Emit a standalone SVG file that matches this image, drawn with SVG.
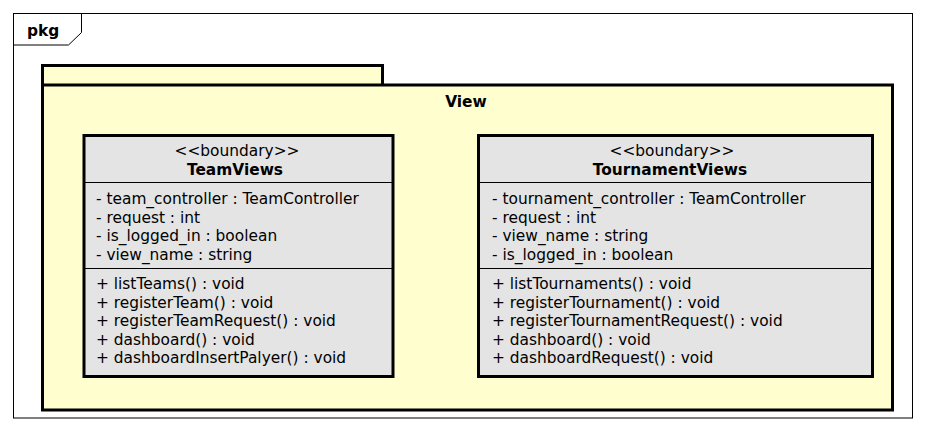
<svg xmlns="http://www.w3.org/2000/svg" width="925" height="432" viewBox="0 0 925 432">
<style>
text{font-family:"DejaVu Sans",sans-serif;font-size:15.4px;fill:#000}
.b{font-weight:bold}
.c{text-anchor:middle}
.cls{fill:#E4E4E4;stroke:#000;stroke-width:3}
.sep{stroke:#000;stroke-width:1}
.pk{fill:#FEFECE;stroke:#000;stroke-width:3}
</style>
<rect width="925" height="432" fill="#fff"/>
<g id="frame">
<rect x="13.5" y="13.5" width="899" height="404.5" fill="none" stroke="#000" stroke-width="1"/>
<path d="M13.5 45 H68.5 L81.5 32.5 V13.5" fill="none" stroke="#000" stroke-width="1"/>
<text x="27" y="36" class="b">pkg</text>
</g>
<g id="View">
<rect class="pk" x="42.5" y="65.5" width="340" height="20"/>
<rect class="pk" x="42.5" y="85" width="850" height="325"/>
<text x="466" y="107" class="b c">View</text>
</g>
<g id="TeamViews">
<rect class="cls" x="84" y="135.5" width="309" height="241"/>
<line class="sep" x1="84" y1="182.5" x2="393" y2="182.5"/>
<line class="sep" x1="84" y1="268.5" x2="393" y2="268.5"/>
<text x="237" y="156" class="c">&lt;&lt;boundary&gt;&gt;</text>
<text x="235" y="174.5" class="b c">TeamViews</text>
<text x="96" y="203.5">- team_controller : TeamController</text>
<text x="96" y="222.5">- request : int</text>
<text x="96" y="241">- is_logged_in : boolean</text>
<text x="96" y="259.5">- view_name : string</text>
<text x="96" y="289">+ listTeams() : void</text>
<text x="96" y="307.5">+ registerTeam() : void</text>
<text x="96" y="326">+ registerTeamRequest() : void</text>
<text x="96" y="344.5">+ dashboard() : void</text>
<text x="96" y="363">+ dashboardInsertPalyer() : void</text>
</g>
<g id="TournamentViews">
<rect class="cls" x="478.5" y="135.5" width="394" height="241"/>
<line class="sep" x1="478.5" y1="182.5" x2="872.5" y2="182.5"/>
<line class="sep" x1="478.5" y1="268.5" x2="872.5" y2="268.5"/>
<text x="672" y="156" class="c">&lt;&lt;boundary&gt;&gt;</text>
<text x="670" y="174.5" class="b c">TournamentViews</text>
<text x="492" y="203.5">- tournament_controller : TeamController</text>
<text x="492" y="222.5">- request : int</text>
<text x="492" y="241">- view_name : string</text>
<text x="492" y="259.5">- is_logged_in : boolean</text>
<text x="492" y="289">+ listTournaments() : void</text>
<text x="492" y="307.5">+ registerTournament() : void</text>
<text x="492" y="326">+ registerTournamentRequest() : void</text>
<text x="492" y="344.5">+ dashboard() : void</text>
<text x="492" y="363">+ dashboardRequest() : void</text>
</g>
<g id="connectors"></g>
</svg>
